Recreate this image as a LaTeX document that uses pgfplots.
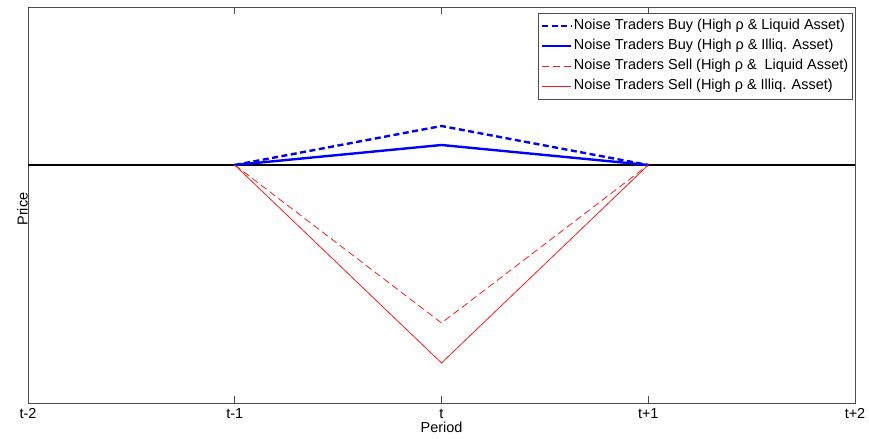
\documentclass[border=0pt]{standalone}
\usepackage{fontspec}
\setmainfont{Liberation Sans}
\usepackage{pgfplots}
\pgfplotsset{compat=1.18}
\begin{document}
\begin{tikzpicture}[x=1bp,y=1bp]
\begin{axis}[
  at={(0,0)}, anchor=south west,
  scale only axis,
  width=827bp, height=396bp,
  xmin=0, xmax=4, ymin=-238, ymax=158,
  xtick={0,1,2,3,4},
  xticklabels={t-2,t-1,t,t+1,t+2},
  ytick=\empty,
  tick align=inside,
  major tick length=7bp,
  xtick pos=both,
  axis line style={line width=0.6pt, black!70},
  tick style={black!70, line width=0.6pt},
  ticklabel style={font=\fontsize{14.5}{17}\selectfont},
  xticklabel style={anchor=base, yshift=-15bp, inner sep=0pt},
  xlabel={Period}, ylabel={Price},
  every axis x label/.style={at={(rel axis cs:0.5,0)}, anchor=base, inner sep=0pt, yshift=-29bp, font=\fontsize{14.5}{17}\selectfont},
  every axis y label/.style={at={(rel axis cs:0,0.5)}, rotate=90, anchor=south, inner sep=0pt, xshift=-4bp, font=\fontsize{14.5}{17}\selectfont},
  legend style={
    at={(1,1)}, xshift=-2bp, yshift=-6bp, anchor=north east,
    font=\fontsize{14.5}{17}\selectfont,
    draw=black!70, line width=0.6pt,
    inner xsep=3bp, inner ysep=3bp,
    row sep=0pt,
    nodes={inner sep=1.5bp, text height=12bp, text depth=5bp},
  },
  legend cell align=left,
  legend image code/.code={\draw[#1] (0bp,0bp) -- (29bp,0bp);},
]
\addplot[black, line width=2.4bp, forget plot] coordinates {(0,0) (4,0)};
\addplot[blue, line width=2.4bp, dash pattern=on 6bp off 3.5bp] coordinates {(1,0) (2,39) (3,0)};
\addlegendentry{Noise Traders Buy (High ρ \& Liquid Asset)}
\addplot[blue, line width=2.4bp] coordinates {(1,0) (2,20) (3,0)};
\addlegendentry{Noise Traders Buy (High ρ \& Illiq. Asset)}
\addplot[red!90!white, line width=0.8bp, dash pattern=on 7bp off 4bp] coordinates {(1,0) (2,-158) (3,0)};
\addlegendentry{Noise Traders Sell (High ρ \&\ \ Liquid Asset)}
\addplot[red!90!white, line width=0.8bp] coordinates {(1,0) (2,-198) (3,0)};
\addlegendentry{Noise Traders Sell (High ρ \& Illiq. Asset)}
\end{axis}
\pgfresetboundingbox
\path (-28bp,-36bp) rectangle (841bp,403bp);
\end{tikzpicture}
\end{document}
